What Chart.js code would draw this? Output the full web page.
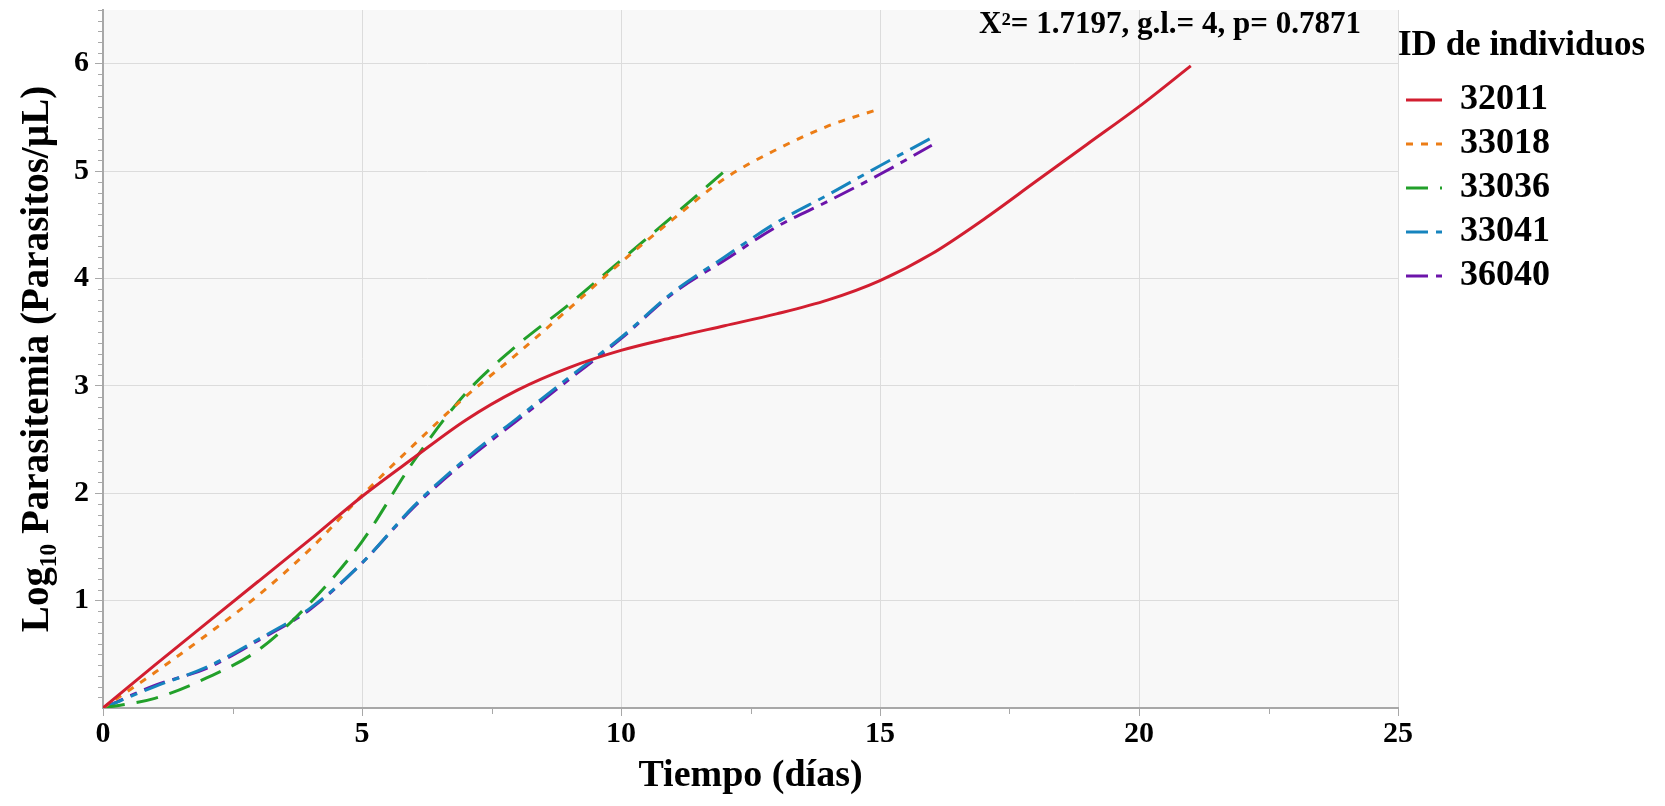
<!DOCTYPE html>
<html>
<head>
<meta charset="utf-8">
<script src="https://cdn.jsdelivr.net/npm/chart.js@4.4.1/dist/chart.umd.min.js"></script>
<style>
  html, body { margin: 0; padding: 0; background: #fff; }
  #wrap { width: 1665px; height: 806px; }
</style>
</head>
<body>
<div id="wrap"><canvas id="parasitemia_chart"></canvas></div>
<script>
// values (log10 parasites/uL vs days)
const ids = ['32011', '33018', '33036', '33041', '36040'];

const days32011 = [0, 1, 2, 3, 4, 5, 6, 7, 8, 9, 10, 11, 12, 13, 14, 15, 16, 17, 18, 19, 20, 21];
const log32011 = [0, 0.40, 0.79, 1.18, 1.57, 1.97, 2.33, 2.68, 2.96, 3.17, 3.33, 3.45, 3.56, 3.67, 3.80, 3.98, 4.23, 4.55, 4.90, 5.25, 5.60, 5.98];

const days33018 = [0, 1, 2, 3, 4, 5, 6, 7, 8, 9, 10, 11, 12, 13, 14, 15];
const log33018 = [0, 0.33, 0.68, 1.05, 1.48, 1.98, 2.45, 2.90, 3.30, 3.72, 4.15, 4.55, 4.93, 5.20, 5.42, 5.58];

const days33036 = [0, 1, 2, 3, 4, 5, 6, 7, 8, 9, 10, 11, 12];
const log33036 = [0, 0.09, 0.28, 0.54, 0.98, 1.55, 2.30, 2.93, 3.38, 3.76, 4.17, 4.58, 5.00];

const days33041 = [0, 1, 2, 3, 4, 5, 6, 7, 8, 9, 10, 11, 12, 13, 14, 15, 16];
const log33041 = [0, 0.20, 0.38, 0.64, 0.93, 1.35, 1.88, 2.32, 2.70, 3.08, 3.45, 3.87, 4.20, 4.52, 4.78, 5.05, 5.31];

const days36040 = [0, 1, 2, 3, 4, 5, 6, 7, 8, 9, 10, 11, 12, 13, 14, 15, 16];
const log36040 = [0, 0.21, 0.37, 0.63, 0.92, 1.35, 1.87, 2.30, 2.68, 3.06, 3.44, 3.86, 4.17, 4.48, 4.72, 4.97, 5.24];

const xTicks = [0, 5, 10, 15, 20, 25];
const yTicks = [1, 2, 3, 4, 5, 6];
const statsText = 'X\u00b2= 1.7197, g.l.= 4, p= 0.7871';

const serif = '"Liberation Serif", "Times New Roman", serif';

const toPoints = (days, vals) => days.map((d, i) => ({ x: d, y: vals[i] }));

const seriesStyle = [
    { color: 'rgb(210, 30, 48)', dash: [] },
    { color: 'rgb(236, 125, 22)', dash: [7, 8] },
    { color: 'rgb(34, 160, 42)', dash: [22, 12] },
    { color: 'rgb(22, 132, 190)', dash: [22, 8, 7, 8] },
    { color: 'rgb(108, 20, 170)', dash: [22, 8, 7, 8] }
];

const seriesData = [
    toPoints(days32011, log32011),
    toPoints(days33018, log33018),
    toPoints(days33036, log33036),
    toPoints(days33041, log33041),
    toPoints(days36040, log36040)
];

const datasets = ids.map((id, i) => ({
    label: id,
    data: seriesData[i],
    borderColor: seriesStyle[i].color,
    backgroundColor: seriesStyle[i].color,
    borderDash: seriesStyle[i].dash,
    borderWidth: 3,
    pointRadius: 0,
    fill: false,
    cubicInterpolationMode: 'monotone'
}));

// legend entries keep each line's dash pattern
const legendLabels = (chart) => chart.data.datasets.map((ds, i) => ({
    text: ds.label,
    datasetIndex: i,
    hidden: false,
    fillStyle: ds.borderColor,
    strokeStyle: ds.borderColor,
    lineWidth: ds.borderWidth,
    lineDash: ds.borderDash,
    lineCap: 'butt',
    pointStyle: 'line',
    fontColor: '#000'
}));

// light plot background, minor ticks and the chi-square note
const plotDecor = {
    id: 'plotDecor',
    afterInit(chart) {
        const lg = chart.legend;
        const fit = lg.fit.bind(lg);
        lg.fit = function () { fit(); this.width = 267; };
    },
    beforeDraw(chart) {
        const { ctx, chartArea: a } = chart;
        ctx.save();
        ctx.fillStyle = '#f8f8f8';
        ctx.fillRect(a.left, a.top, a.right - a.left, a.bottom - a.top);
        ctx.restore();
    },
    afterDraw(chart) {
        const { ctx, chartArea: a, scales } = chart;
        ctx.save();
        ctx.strokeStyle = '#a8a8a8';
        ctx.lineWidth = 1;
        ctx.beginPath();
        for (let k = 1; k <= 65; k++) {
            if (k % 10 === 0) continue;
            const y = Math.round(scales.y.getPixelForValue(k / 10)) + 0.5;
            ctx.moveTo(a.left - 5, y);
            ctx.lineTo(a.left, y);
        }
        for (let v = 2.5; v < 25; v += 5) {
            const x = Math.round(scales.x.getPixelForValue(v)) + 0.5;
            ctx.moveTo(x, a.bottom);
            ctx.lineTo(x, a.bottom + 6);
        }
        ctx.stroke();

        ctx.fillStyle = '#000';
        ctx.font = 'bold 31px ' + serif;
        ctx.textAlign = 'center';
        ctx.textBaseline = 'middle';
        ctx.fillText(statsText, 1170, 25);
        ctx.restore();
    }
};

const noEdgePadding = (s) => {
    s.paddingTop = 0;
    s.paddingBottom = 0;
    s.paddingLeft = 0;
    s.paddingRight = 0;
};

new Chart(document.getElementById('parasitemia_chart'), {
    type: 'line',
    data: { datasets: datasets },
    options: {
        responsive: true,
        maintainAspectRatio: false,
        animation: false,
        layout: { padding: { top: 10, right: 0, bottom: 0, left: 0 } },
        plugins: {
            tooltip: { enabled: false },
            legend: {
                position: 'right',
                align: 'start',
                title: {
                    display: true,
                    text: 'ID de individuos',
                    position: 'start',
                    color: '#000',
                    font: { family: serif, size: 35, weight: 'bold', lineHeight: 1 },
                    padding: { top: 18, bottom: 11 }
                },
                labels: {
                    usePointStyle: true,
                    pointStyle: 'line',
                    pointStyleWidth: 36,
                    generateLabels: legendLabels,
                    color: '#000',
                    padding: 8,
                    font: { family: serif, size: 36, weight: 'bold', lineHeight: 1 }
                }
            }
        },
        scales: {
            x: {
                type: 'linear',
                min: 0,
                max: 25,
                afterBuildTicks: (s) => { s.ticks = xTicks.map(v => ({ value: v })); },
                afterFit: (s) => { s.height = 98; noEdgePadding(s); },
                ticks: {
                    color: '#000',
                    padding: 0,
                    font: { family: serif, size: 30, weight: 'bold' }
                },
                grid: { color: '#dcdcdc', tickColor: '#a8a8a8', tickLength: 8 },
                border: { color: '#a8a8a8', width: 2 },
                title: {
                    display: true,
                    text: 'Tiempo (días)',
                    color: '#000',
                    font: { family: serif, size: 38, weight: 'bold', lineHeight: 1 },
                    padding: { top: 0, bottom: 11 }
                }
            },
            y: {
                type: 'linear',
                min: 0,
                max: 6.5,
                afterBuildTicks: (s) => { s.ticks = yTicks.map(v => ({ value: v })); },
                afterFit: (s) => { s.width = 103; noEdgePadding(s); },
                ticks: {
                    color: '#000',
                    padding: 6,
                    font: { family: serif, size: 30, weight: 'bold' }
                },
                grid: { color: '#dcdcdc', tickColor: '#a8a8a8', tickLength: 8 },
                border: { color: '#a8a8a8', width: 2 },
                title: {
                    display: true,
                    text: 'Log\u2081\u2080 Parasitemia (Parasitos/\u00b5L)',
                    color: '#000',
                    font: { family: serif, size: 39, weight: 'bold', lineHeight: 1 },
                    padding: { top: 18, bottom: 0 }
                }
            }
        }
    },
    plugins: [plotDecor]
});
</script>
</body>
</html>
